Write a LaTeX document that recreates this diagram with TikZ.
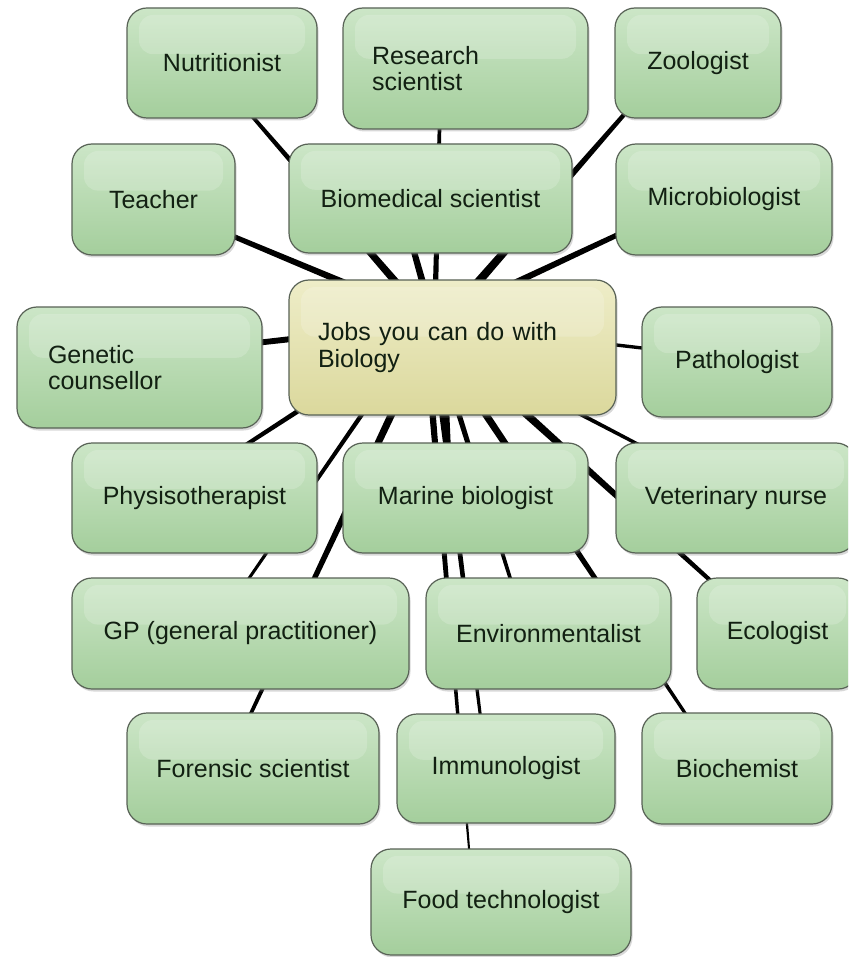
\documentclass[tikz,border=0pt]{standalone}
\usepackage{fontspec}
\setmainfont{Liberation Sans}
\usetikzlibrary{calc,shadows}
\definecolor{gtop}{RGB}{204,230,199}
\definecolor{gbot}{RGB}{164,206,156}
\definecolor{ytop}{RGB}{238,237,200}
\definecolor{ybot}{RGB}{219,216,156}
\definecolor{boxline}{RGB}{88,98,86}
\definecolor{ink}{RGB}{18,32,18}
\pgfdeclarelayer{background}
\pgfsetlayers{background,main}
\newcommand\jobfont{\fontsize{25pt}{26.5pt}\selectfont}
\tikzset{
  job/.style={draw=boxline, line width=1.2pt, rounded corners=20pt,
    top color=gtop, bottom color=gbot, text=ink, font=\jobfont, inner sep=0pt,
    drop shadow={opacity=0.3, shadow xshift=1.5pt, shadow yshift=-2.5pt},
    path picture={\fill[white,opacity=0.18,rounded corners=14pt]
      ([shift={(12,7)}]path picture bounding box.north west) rectangle
      ($(path picture bounding box.north east)!0.42!(path picture bounding box.south east)+(-12,0)$);}},
  hubbox/.style={job, top color=ytop, bottom color=ybot},
  spoke/.style={fill=black}
}
\begin{document}
\begin{tikzpicture}[x=1pt,y=-1pt]
\useasboundingbox (0,0) rectangle (848,957);
\clip (0,0) rectangle (848,957);

\node[hubbox, minimum width=327pt, minimum height=135pt, text width=269pt, align=left] (hub) at (452.5,347.5) {Jobs you can do with\\Biology};
\node[job, minimum width=245pt, minimum height=121pt, text width=187pt, align=left] (research) at (465.5,68.5) {Research\\scientist};
\node[job, minimum width=245pt, minimum height=121pt, text width=183pt, align=left] (genetic) at (139.5,367.5) {Genetic\\counsellor};
\foreach \n/\x/\y/\w/\h/\t in {
  nutr/222/63/190/110/Nutritionist,
  zoo/698/63/166/110/Zoologist,
  teacher/153.5/199.5/163/111/Teacher,
  biomed/430.5/198.5/283/109/Biomedical scientist,
  micro/724/199.5/216/111/Microbiologist,
  patho/737/362/190/110/Pathologist,
  physio/194.5/498/245/110/Physisotherapist,
  marine/465.5/498/245/110/Marine biologist,
  vet/736/498/240/110/Veterinary nurse,
  gp/240.5/633.5/337/111/GP (general practitioner),
  env/548.5/633.5/245/111/Environmentalist,
  eco/777.5/633.5/161/111/Ecologist,
  forensic/253/768.5/252/111/Forensic scientist,
  immuno/506/768.5/218/109/Immunologist,
  biochem/737/768.5/190/111/Biochemist,
  food/501/902/260/106/Food technologist}
  \node[job, minimum width=\w pt, minimum height=\h pt] (\n) at (\x,\y) {\t};

\begin{pgfonlayer}{background}
\fill[white] (0,0) rectangle (848,957);
\foreach \c/\hx/\hy/\cx/\cy/\wa/\wb in {
  nutr/0/0/-16/0/4.5/1.25, research/-18.5/0/-24.5/0/3/1.5,
  biomed/-11.5/0/-31.5/0/4/2.5, zoo/-31.5/0/-29/0/5/1.5,
  micro/0/-35.5/0/-14.5/3.5/2, teacher/0/-19.5/0/3.5/4/2,
  genetic/0/-26.5/0/-11.5/3.5/2.5, patho/0/-21.5/0/-3/2/1.5,
  physio/-56.5/0/-30.5/0/3/1.5, marine/-10/0/-15/0/4/2.5,
  vet/0/0/5/0/2.5/1.25, gp/-44.5/0/-29.5/0/2.5/1.25,
  forensic/-29.5/0/-28/0/4/1.5, env/-14.5/0/-21/0/3/1.5,
  eco/0/0/-8.5/0/4.5/1.5, biochem/-11.5/0/-15/0/4/1.25,
  immuno/-18.5/0/-19/0/3.5/1.25, food/-25.5/0/-27.5/0/3.5/0.75}{
  \coordinate (p) at ($(hub)+(\hx,\hy)$);
  \coordinate (q) at ($(\c)+(\cx,\cy)$);
  \fill[spoke] ($(p)!\wa pt!90:(q)$) -- ($(q)!\wb pt!-90:(p)$) -- ($(q)!\wb pt!90:(p)$) -- ($(p)!\wa pt!-90:(q)$) -- cycle;
}
\end{pgfonlayer}
\end{tikzpicture}
\end{document}
